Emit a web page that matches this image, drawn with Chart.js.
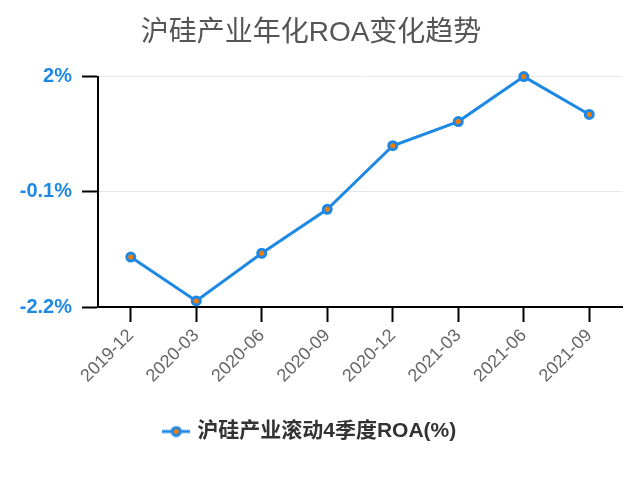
<!DOCTYPE html>
<html>
<head>
<meta charset="utf-8">
<script src="https://cdn.jsdelivr.net/npm/chart.js@4.4.1/dist/chart.umd.min.js"></script>
<style>
  html, body { margin: 0; padding: 0; background: #fff; }
  #wrap { width: 640px; height: 477px; }
</style>
</head>
<body>
<div id="wrap"><canvas id="roaChart" width="640" height="477"></canvas></div>
<script>
const quarters = ["2019-12", "2020-03", "2020-06", "2020-09", "2020-12", "2021-03", "2021-06", "2021-09"];
const roaValues = [-1.29, -2.09, -1.22, -0.42, 0.74, 1.18, 2.0, 1.31];
const yTicks = [-2.2, -0.1, 2];

const seriesName = "沪硅产业滚动4季度ROA(%)";
const titleText = "沪硅产业年化ROA变化趋势";
const fontFamily = "'Liberation Sans', 'Noto Sans CJK SC', sans-serif";
const lineBlue = "#1e88e5";
const dotOrange = "#f57c00";

// legend marker: short line with a dot in the middle
function legendMarker() {
  const c = document.createElement("canvas");
  c.width = 28;
  c.height = 12;
  const ctx = c.getContext("2d");
  ctx.strokeStyle = lineBlue;
  ctx.lineWidth = 3;
  ctx.beginPath();
  ctx.moveTo(0, 6);
  ctx.lineTo(28, 6);
  ctx.stroke();
  ctx.beginPath();
  ctx.arc(14, 6, 4, 0, Math.PI * 2);
  ctx.fillStyle = dotOrange;
  ctx.fill();
  ctx.lineWidth = 3;
  ctx.stroke();
  return c;
}

new Chart(document.querySelector("#roaChart"), {
  type: "line",
  data: {
    labels: quarters,
    datasets: [
      {
        label: seriesName,
        data: roaValues,
        borderColor: lineBlue,
        backgroundColor: dotOrange,
        borderWidth: 3,
        pointRadius: 4,
        pointBorderWidth: 3,
        pointBorderColor: lineBlue,
        pointBackgroundColor: dotOrange,
        tension: 0,
        clip: false
      }
    ]
  },
  options: {
    responsive: false,
    animation: false,
    layout: {
      padding: { top: 0, right: 18, bottom: 25, left: 0 }
    },
    scales: {
      x: {
        offset: true,
        grid: {
          offset: false,
          drawOnChartArea: false,
          drawTicks: true,
          tickLength: 15,
          tickColor: "#000",
          tickWidth: 2
        },
        border: { display: true, color: "#000", width: 2 },
        ticks: {
          color: "#666",
          font: { family: fontFamily, size: 18 },
          minRotation: 45,
          maxRotation: 45,
          padding: 3
        },
        afterFit(scale) {
          scale.height = 104;
        }
      },
      y: {
        min: -2.2,
        max: 2,
        afterBuildTicks(scale) {
          scale.ticks = yTicks.map((v) => ({ value: v }));
        },
        grid: {
          color: "#e6e6e6",
          lineWidth: 1,
          tickLength: 16,
          tickColor: "#000",
          tickWidth: 2
        },
        border: { display: true, color: "#000", width: 2 },
        ticks: {
          color: lineBlue,
          padding: 10,
          font: { family: fontFamily, size: 20, weight: "bold" },
          callback: (v) => String(Math.round(v * 10) / 10) + "%"
        },
        afterFit(scale) {
          scale.width = 98;
        }
      }
    },
    plugins: {
      title: {
        display: true,
        text: titleText,
        color: "#555",
        font: { family: fontFamily, size: 28, weight: "normal" },
        padding: { top: 16, bottom: 27 }
      },
      legend: {
        position: "bottom",
        labels: {
          usePointStyle: true,
          pointStyle: legendMarker(),
          color: "#333",
          padding: 10,
          font: { family: fontFamily, size: 21, weight: "bold" }
        }
      },
      tooltip: { enabled: false }
    }
  }
});
</script>
</body>
</html>
